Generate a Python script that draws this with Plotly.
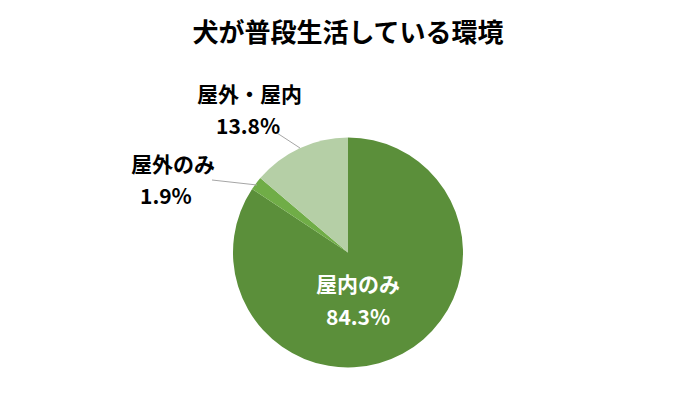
import plotly.graph_objects as go

labels = ["屋内のみ", "屋外のみ", "屋外・屋内"]
values = [84.3, 1.9, 13.8]
colors = ["#5b8f3a", "#70ad47", "#b5cfa6"]

W, H = 696, 410
OFF = 8  # page body margin
FONT = "Noto Sans CJK JP"

# label spots in pixels (name, pct) per slice
label_pos = [((358, 283), (358, 316), "white"),
             ((173, 163), (166, 195), "black"),
             ((249, 93), (248, 125), "black")]
leaders = [None, ((212, 180), (257, 185)), ((277, 133), (300, 148))]


def px(x, y):
    return (x - OFF) / W, 1 - (y - OFF) / H


fig = go.Figure()
fig.add_trace(go.Pie(
    labels=labels, values=values, sort=False, direction="clockwise",
    rotation=0, textinfo="none", hoverinfo="label+percent",
    marker=dict(colors=colors, line=dict(color="white", width=0)),
    domain=dict(x=[px(233, 0)[0], px(463, 0)[0]], y=[px(0, 368)[1], px(0, 137)[1]]),
    showlegend=False,
))

for lab, val, (p1, p2, col) in zip(labels, values, label_pos):
    for txt, p in ((lab, p1), (f"{val}%", p2)):
        ax, ay = px(*p)
        fig.add_annotation(x=ax, y=ay, xref="paper", yref="paper", text=f"<b>{txt}</b>",
                           showarrow=False, xanchor="center", yanchor="middle",
                           font=dict(family=FONT, size=21, color=col))

for ln in leaders:
    if ln is None:
        continue
    (x0, y0), (x1, y1) = px(*ln[0]), px(*ln[1])
    fig.add_shape(type="line", xref="paper", yref="paper", x0=x0, y0=y0, x1=x1, y1=y1,
                  line=dict(color="#a6a6a6", width=1))

fig.update_layout(
    width=W, height=H, margin=dict(l=0, r=0, t=0, b=0),
    paper_bgcolor="white", plot_bgcolor="white",
    title=dict(text="<b>犬が普段生活している環境</b>", x=px(348, 0)[0], xanchor="center",
               y=px(0, 33)[1], yanchor="middle", font=dict(family=FONT, size=26, color="black")),
)

fig.write_html("out.html")
